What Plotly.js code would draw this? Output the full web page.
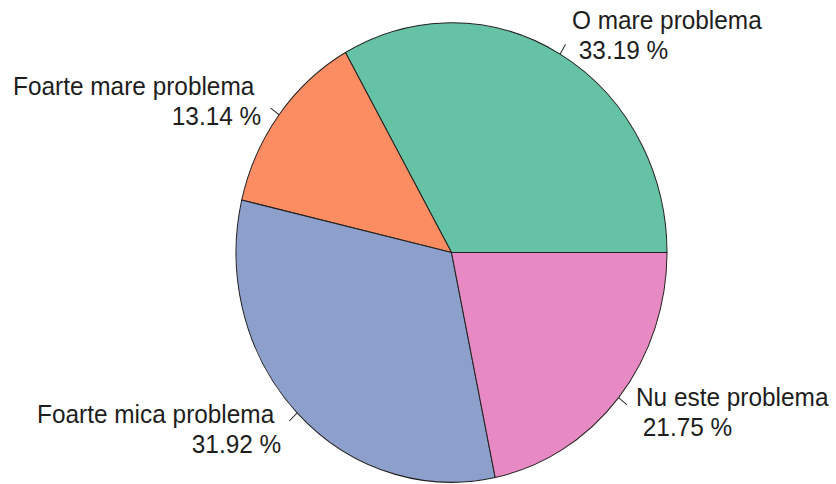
<!DOCTYPE html>
<html>
<head>
<meta charset="utf-8">
<script src="https://cdn.plot.ly/plotly-3.0.1.min.js"></script>
<style>
  html, body { margin: 0; padding: 0; background: #fff; overflow: hidden; }
  #wrap { width: 836px; height: 484px; overflow: hidden; }
  #chart { width: 836px; height: 454px; transform: scaleY(1.0661); transform-origin: 0 0; }
</style>
</head>
<body>
<div id="wrap"><div id="chart"></div></div>
<script>
// ---- data ----
var categories = ["O mare problema", "Foarte mare problema", "Foarte mica problema", "Nu este problema"];
var percents = [33.19, 13.14, 31.92, 21.75];
var colors = ["#66C2A5", "#FC8D62", "#8DA0CB", "#E78AC3"];

// ---- geometry (unscaled page pixels) ----
var W = 836, H = 454;
var cx = 451.5, cy = 236.9, r = 215.5;
var fontSize = 24.4;
var lineGap = 14.1;

var domX = [(cx - r) / W, (cx + r) / W];
var domY = [(H - cy - r) / H, (H - cy + r) / H];

function px2paper(x, y) { return [x / W, 1 - y / H]; }

var total = percents.reduce(function (a, b) { return a + b; }, 0);
var annotations = [];
var shapes = [];
var cum = 0;
for (var i = 0; i < percents.length; i++) {
  var mid = (cum + percents[i] / 2) / total * 2 * Math.PI;
  cum += percents[i];
  var c = Math.cos(mid), s = Math.sin(mid);
  var p0 = px2paper(cx + r * c, cy - r * s);
  var p1 = px2paper(cx + 1.05 * r * c, cy - 1.05 * r * s);
  shapes.push({type: "line", xref: "paper", yref: "paper",
    x0: p0[0], y0: p0[1], x1: p1[0], y1: p1[1],
    line: {color: "#333", width: 1}});
  var lx = cx + 1.1 * r * c, ly = cy - 1.1 * r * s;
  var right = c > 0;
  var line1 = right ? categories[i] : categories[i] + "\u00a0";
  var line2 = "\u00a0" + percents[i].toFixed(2) + "\u00a0%";
  var a1 = px2paper(lx, ly - lineGap);
  var a2 = px2paper(lx, ly + lineGap);
  [[line1, a1], [line2, a2]].forEach(function (t) {
    annotations.push({
      xref: "paper", yref: "paper", x: t[1][0], y: t[1][1],
      text: t[0], showarrow: false,
      xanchor: right ? "left" : "right", yanchor: "middle",
      align: right ? "left" : "right", borderpad: 0,
      font: {family: "Liberation Sans, Arial, sans-serif", size: fontSize, color: "#1e1e1e"}
    });
  });
}

// first slice starts at 3 o'clock and slices run counterclockwise
var firstSliceDeg = percents[0] / total * 360;

var trace = {
  type: "pie",
  labels: categories,
  values: percents,
  sort: false,
  direction: "counterclockwise",
  rotation: 90 - firstSliceDeg,
  textinfo: "none",
  hoverinfo: "label+percent",
  marker: {colors: colors, line: {color: "#222", width: 1}},
  domain: {x: domX, y: domY},
  showlegend: false
};

var layout = {
  width: W, height: H,
  margin: {l: 0, r: 0, t: 0, b: 0},
  paper_bgcolor: "#fff",
  showlegend: false,
  annotations: annotations,
  shapes: shapes
};

Plotly.newPlot("chart", [trace], layout, {displayModeBar: false, staticPlot: true});
</script>
</body>
</html>
